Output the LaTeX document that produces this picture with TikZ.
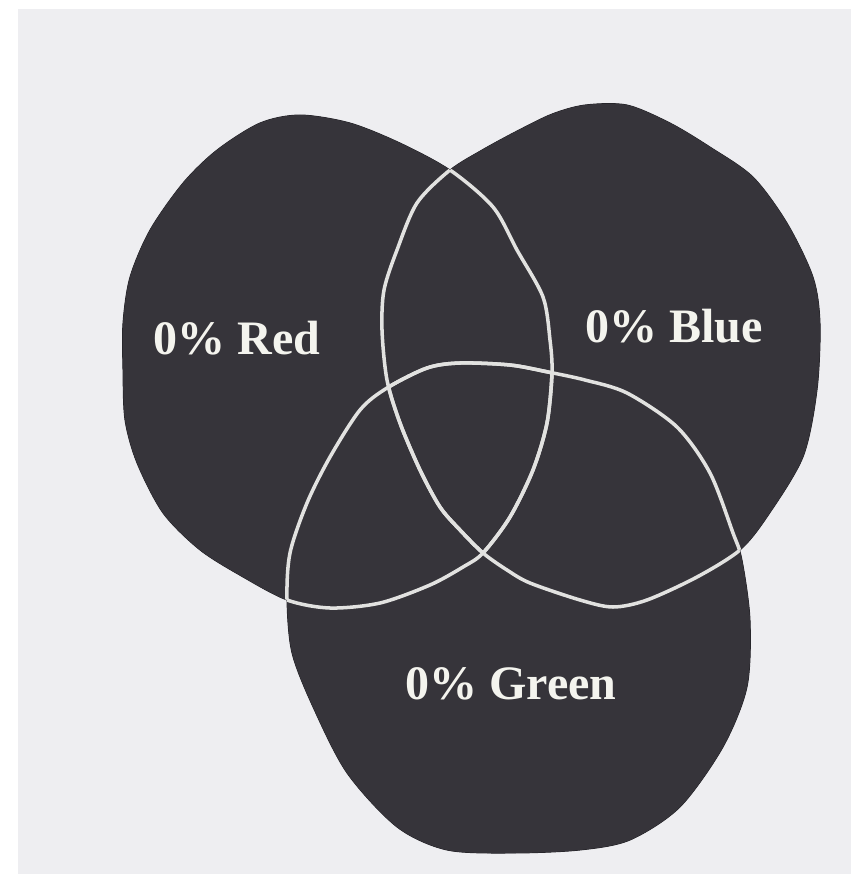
\documentclass[tikz,border=0pt]{standalone}
\usepackage{fontspec}
\setmainfont{Liberation Serif}
\usepackage{tikz}
\definecolor{page}{RGB}{238,238,241}
\definecolor{ink}{RGB}{54,52,58}
\definecolor{inkedge}{RGB}{32,31,36}
\definecolor{rimwhite}{RGB}{226,226,224}
\definecolor{labelwhite}{RGB}{244,244,238}

% the three blobs (pixel units, y downwards)
\def\redblob{plot[smooth cycle] coordinates {(300,115) (350,123) (400,143) (450,170) (493,207) (517,250) (543,297) (550,340) (552,373) (547,423) (533,470) (510,517) (483,553) (463,567) (430,585) (380,603) (330,608) (287,600) (243,577) (200,550) (163,513) (137,463) (125,420) (123,370) (123,323) (130,277) (150,230) (183,183) (217,150) (260,123)}}
\def\blueblob{plot[smooth cycle] coordinates {(450,170) (482,150) (517,131) (552,114) (585,105) (627,105) (670,123) (710,147) (753,177) (787,223) (813,277) (820,323) (817,390) (803,457) (767,517) (740,550) (697,577) (647,600) (613,607) (580,600) (530,583) (507,570) (483,553) (460,530) (440,507) (420,470) (400,423) (387,380) (382,330) (384,290) (397,250) (417,203)}}
\def\greenblob{plot[smooth cycle] coordinates {(287,600) (290,553) (307,503) (330,457) (360,410) (387,388) (427,368) (460,363) (510,365) (548,372) (585,380) (627,393) (677,427) (710,473) (733,533) (742,560) (750,620) (747,687) (723,747) (680,807) (630,840) (580,850) (513,853) (447,850) (397,827) (347,773) (313,707) (292,653)}}

\begin{document}
\begin{tikzpicture}[
  x=0.03cm, y=-0.03cm,
  blob/.style={fill=ink, draw=inkedge, line width=0.8pt},
  rim/.style={draw=rimwhite, line width=3pt},
  label/.style={text=labelwhite, inner sep=0pt, anchor=base,
                font=\bfseries\fontsize{41}{41}\selectfont}
]

\fill[white] (0,0) rectangle (851,874);
\fill[page] (18,9) rectangle (851,874);
\useasboundingbox (0,0) rectangle (851,874);

\fill[blob] \redblob;
\fill[blob] \blueblob;
\fill[blob] \greenblob;
\path[fill=ink] \redblob;
\path[fill=ink] \blueblob;
\path[fill=ink] \greenblob;

% white rims where the blobs overlap
\begin{scope} \clip \blueblob;  \draw[rim] \redblob;   \end{scope}
\begin{scope} \clip \greenblob; \draw[rim] \redblob;   \end{scope}
\begin{scope} \clip \redblob;   \draw[rim] \blueblob;  \end{scope}
\begin{scope} \clip \greenblob; \draw[rim] \blueblob;  \end{scope}
\begin{scope} \clip \redblob;   \draw[rim] \greenblob; \end{scope}
\begin{scope} \clip \blueblob;  \draw[rim] \greenblob; \end{scope}

\node[label] (red)   at (237,354) {0\% Red};
\node[label] (blue)  at (674,342) {0\% Blue};
\node[label] (green) at (511,699) {0\% Green};

\end{tikzpicture}
\end{document}
